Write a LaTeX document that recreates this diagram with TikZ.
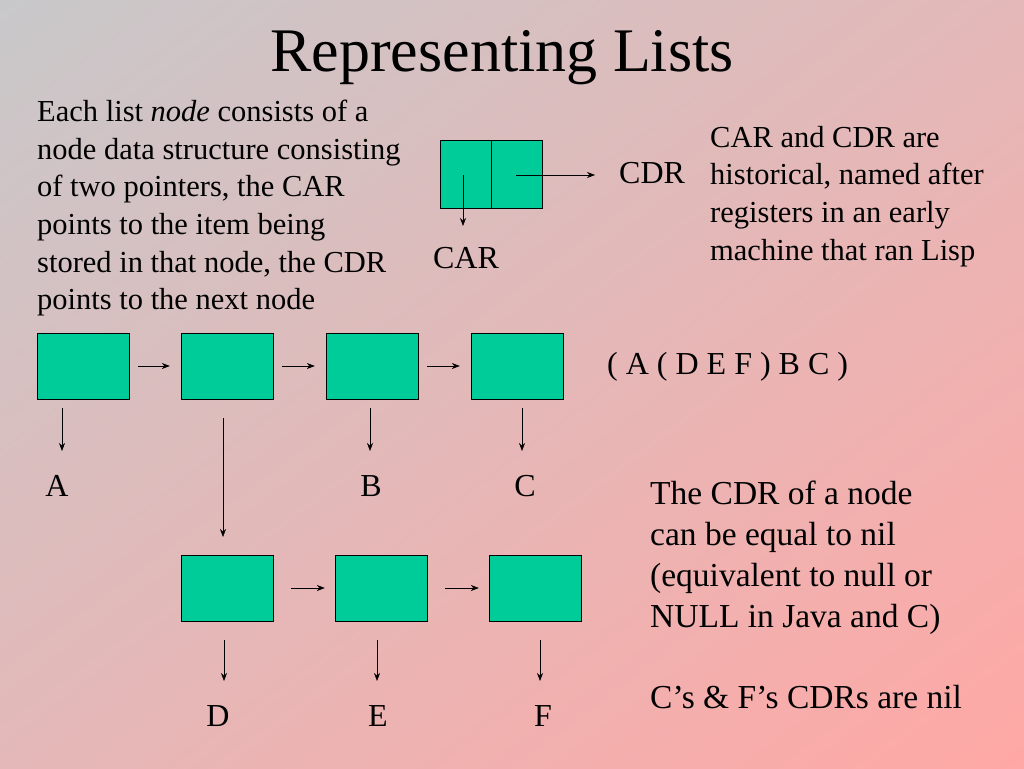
\documentclass[tikz,border=0pt]{standalone}
\usepackage{fontspec}
\setmainfont{Liberation Serif}
\usetikzlibrary{arrows.meta, shadings}
\definecolor{cellgreen}{RGB}{0,204,153}
\definecolor{bgtl}{RGB}{200,200,202}
\definecolor{bgbr}{RGB}{255,168,165}
\definecolor{bgmid}{RGB}{228,184,184}
\tikzset{
  cell/.style={draw, fill=cellgreen, minimum width=92pt, minimum height=66pt, inner sep=0pt},
  ptr/.style={-{Stealth[length=8pt,width=6pt]}, semithick},
  txt/.style={font=\fontsize{30.5}{37.6}\selectfont, inner sep=0pt},
  lbl/.style={font=\fontsize{32}{34}\selectfont, inner sep=0pt}
}
\begin{document}
\begin{tikzpicture}[x=1pt, y=-1pt]
% Background
\shade[upper left=bgtl, lower right=bgbr, upper right=bgmid, lower left=bgmid] (0,0) rectangle (1024,768);
\useasboundingbox (0,0) rectangle (1024,768);
\node[font=\fontsize{62}{64}\selectfont] (title) at (502,58) {Representing Lists};
% Text blocks
\node[txt, anchor=north west, align=left] (explain) at (37,100) {Each list \textit{node} consists of a\\node data structure consisting\\of two pointers, the CAR\\points to the item being\\stored in that node, the CDR\\points to the next node};
\node[txt, anchor=north west, align=left] (history) at (710,126) {CAR and CDR are\\historical, named after\\registers in an early\\machine that ran Lisp};
\node[txt, anchor=north west, align=left, font=\fontsize{33.5}{41}\selectfont] (nil) at (650,481) {The CDR of a node\\can be equal to nil\\(equivalent to null or\\NULL in Java and C)\\[40pt]C’s \& F’s CDRs are nil};
\node[lbl, anchor=west] (expr) at (607,367) {( A ( D E F ) B C )};
% Single node
\node[draw, fill=cellgreen, minimum width=102pt, minimum height=68pt, inner sep=0pt] (pair) at (491,174) {};
\draw (pair.north) -- (pair.south);
\coordinate (carend) at (463,226);
\coordinate (cdrend) at (595,175);
\draw[ptr] (463,175) -- (carend);
\draw[ptr] (516,175) -- (cdrend);
\node[lbl, anchor=west] (cdr) at (619,173) {CDR};
\node[lbl] (car) at (466,258) {CAR};
% Top list
\node[cell] (n1) at (83,366) {};
\node[cell] (n2) at (227,366) {};
\node[cell] (n3) at (372,366) {};
\node[cell] (n4) at (517,366) {};
\foreach \a/\b in {n1/n2, n2/n3, n3/n4}
  \draw[ptr] ([xshift=9pt]\a.east) -- ([xshift=-11pt]\b.west);
\node[lbl] (A) at (57,486) {A};
\node[lbl] (B) at (371,486) {B};
\node[lbl] (C) at (525,486) {C};
\draw[ptr] (62,408) -- (62,451);
\draw[ptr] (370,408) -- (370,451);
\draw[ptr] (522,408) -- (522,451);
% Sub list
\node[cell] (m1) at (227,588) {};
\node[cell] (m2) at (381,588) {};
\node[cell] (m3) at (535,588) {};
\draw[ptr] (223,418) -- (223,537);
\foreach \a/\b in {m1/m2, m2/m3}
  \draw[ptr] ([xshift=18pt]\a.east) -- ([xshift=-10pt]\b.west);
\node[lbl] (D) at (218,716) {D};
\node[lbl] (E) at (378,716) {E};
\node[lbl] (F) at (543,716) {F};
\draw[ptr] (224,640) -- (224,681);
\draw[ptr] (377,640) -- (377,681);
\draw[ptr] (540,640) -- (540,681);
\end{tikzpicture}
\end{document}
